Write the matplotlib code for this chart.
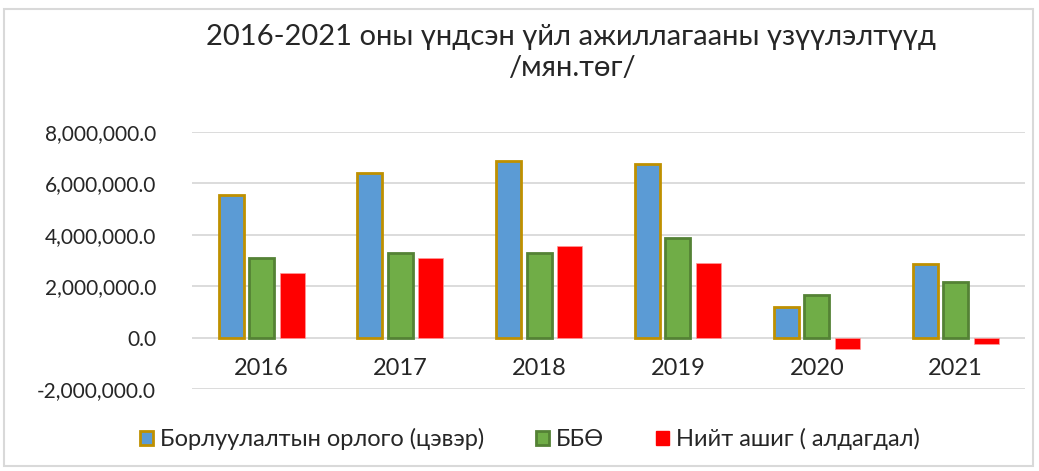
import matplotlib.pyplot as plt
from matplotlib.patches import Rectangle, Patch
from matplotlib.ticker import FuncFormatter
import numpy as np

years = ['2016', '2017', '2018', '2019', '2020', '2021']
revenue = [5550000, 6400000, 6870000, 6760000, 1200000, 2870000]
ebitda = [3100000, 3300000, 3300000, 3880000, 1670000, 2170000]
net_profit = [2520000, 3100000, 3570000, 2900000, -430000, -230000]

series_names = ['Борлуулалтын орлого (цэвэр)', 'ББӨ', 'Нийт ашиг ( алдагдал)']

plt.rcParams['font.family'] = ['Lato', 'DejaVu Sans']

fig = plt.figure(figsize=(10.39, 4.71), dpi=100)
ax = fig.add_axes([0.185, 0.174, 0.8015, 0.546])

x = np.arange(len(years))
w = 0.18
off = 0.22
ax.bar(x - off, revenue, w, color='#5B9BD5', edgecolor='#BF9000', linewidth=2, zorder=3)
ax.bar(x, ebitda, w, color='#70AD47', edgecolor='#548235', linewidth=2, zorder=3)
ax.bar(x + off, net_profit, w, color='#FF0000', edgecolor='#FF9999', linewidth=0.5, zorder=3)

ax.set_xlim(-0.5, len(years) - 0.5)
ax.set_ylim(-2000000, 8000000)
ax.set_yticks(np.arange(-2000000, 8000001, 2000000))
ax.yaxis.set_major_formatter(FuncFormatter(lambda v, p: '{:,.1f}'.format(v)))
ax.tick_params(axis='y', length=0, labelsize=15, colors='#262626', pad=26)
ax.set_xticks([])
ax.grid(axis='y', color='#d9d9d9', linewidth=1.3, zorder=0)
for s in ax.spines.values():
    s.set_visible(False)

for i, yr in enumerate(years):
    ax.annotate(yr, (i, 0), xytext=(0, -15), textcoords='offset points',
                ha='center', va='top', fontsize=17, color='#262626')

fig.text(0.55, 0.948, '2016-2021 оны үндсэн үйл ажиллагааны үзүүлэлтүүд\n/мян.төг/',
         ha='center', va='top', fontsize=21, color='#262626', linespacing=1.2)

handles = [Patch(facecolor='#5B9BD5', edgecolor='#BF9000', linewidth=2),
           Patch(facecolor='#70AD47', edgecolor='#548235', linewidth=2),
           Patch(facecolor='#FF0000', edgecolor='#FF0000')]
fig.legend(handles, series_names, loc='center', bbox_to_anchor=(0.51, 0.068), ncol=3,
           frameon=False, fontsize=17, handlelength=0.55, handleheight=0.55,
           handletextpad=0.3, columnspacing=2.2, labelcolor='#262626')

fig.patches.append(Rectangle((0.004, 0.01), 0.99, 0.97, transform=fig.transFigure,
                             fill=False, edgecolor='#d9d9d9', linewidth=1.5))

fig.savefig('out.png', dpi=100)
